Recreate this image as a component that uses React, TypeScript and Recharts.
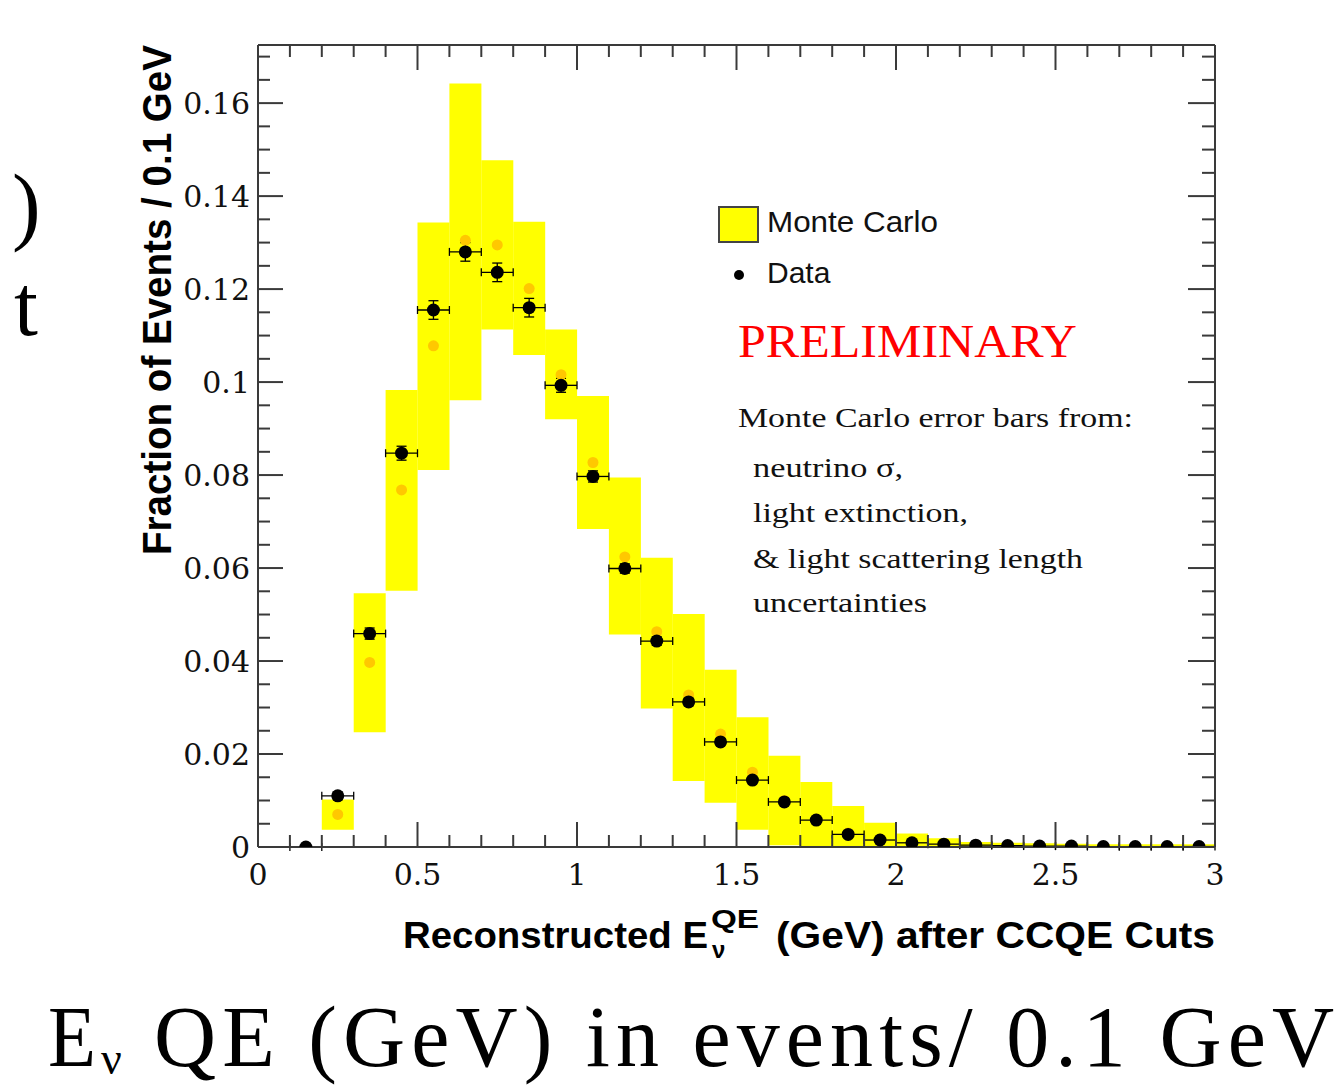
import React from "react";
import { ComposedChart, Bar, Scatter, XAxis, YAxis, ErrorBar } from "recharts";

// bin centres (GeV), bins are 0.1 GeV wide
const binCenters = [0.15, 0.25, 0.35, 0.45, 0.55, 0.65, 0.75, 0.85, 0.95, 1.05, 1.15, 1.25, 1.35, 1.45, 1.55, 1.65, 1.75, 1.85, 1.95, 2.05, 2.15, 2.25, 2.35, 2.45, 2.55, 2.65, 2.75, 2.85, 2.95];
const binHalfWidth = 0.05;

// black points (data)
const dataFraction = [0, 0.011, 0.0459, 0.0847, 0.1155, 0.128, 0.1236, 0.116, 0.0993, 0.0797, 0.0599, 0.0443, 0.0312, 0.0226, 0.0144, 0.0097, 0.0058, 0.0027, 0.0015, 0.0009, 0.0006, 0.0004, 0.0003, 0.0002, 0.0002, 0.0001, 0.0001, 0.0001, 0.0001];
const dataError = [0, 0.0008, 0.0012, 0.0015, 0.002, 0.002, 0.002, 0.002, 0.0015, 0.0012, 0.001, 0.0009, 0.0008, 0.0007, 0.0006, 0.0005, 0.0004, 0.0003, 0.0002, 0.0002, 0.0001, 0.0001, 0.0001, 0.0001, 0.0001, 0.0001, 0.0001, 0.0001, 0.0001];

// Monte Carlo central value (orange) and error band (yellow)
const mcCentral = [0, 0.007, 0.0397, 0.0768, 0.1078, 0.1305, 0.1295, 0.1201, 0.1016, 0.0827, 0.0624, 0.0463, 0.0327, 0.0243, 0.0161, 0.01, 0.006, 0.003, 0.0017, 0.001, 0.0007, 0.0004, 0.0003, 0.0002, 0.0002, 0.0001, 0.0001, 0.0001, 0.0001];
const mcLow = [0, 0.0037, 0.0247, 0.0551, 0.0811, 0.0961, 0.1113, 0.1058, 0.092, 0.0684, 0.0457, 0.0298, 0.0142, 0.0095, 0.0037, 0.0004, 0, 0, 0, 0, 0, 0, 0, 0, 0, 0, 0, 0, 0];
const mcHigh = [0, 0.0102, 0.0546, 0.0983, 0.1343, 0.1642, 0.1477, 0.1345, 0.1113, 0.097, 0.0795, 0.0622, 0.0501, 0.0381, 0.0279, 0.0196, 0.014, 0.0088, 0.0052, 0.0029, 0.0019, 0.0011, 0.0009, 0.0008, 0.0007, 0.0006, 0.0006, 0.0006, 0.0006];

const xMajorTicks = [0, 0.5, 1, 1.5, 2, 2.5, 3];
const xTickLabels = ["0", "0.5", "1", "1.5", "2", "2.5", "3"];
const yMajorTicks = [0, 0.02, 0.04, 0.06, 0.08, 0.1, 0.12, 0.14, 0.16];
const yTickLabels = ["0", "0.02", "0.04", "0.06", "0.08", "0.1", "0.12", "0.14", "0.16"];

const xMinorTicks = Array.from({ length: 31 }, (_, i) => i / 10);
const yMinorTicks = Array.from({ length: 35 }, (_, i) => i * 0.005);

const rows = binCenters.map((x, i) => ({
  x,
  frac: dataFraction[i],
  fracErr: dataError[i],
  xErr: binHalfWidth,
  mc: mcCentral[i],
  mcRange: [mcLow[i], mcHigh[i]],
}));

const axisColor = "#3a3a3a";
const tickFont = "'DejaVu Serif', serif";
const major = (list: number[], v: number) => list.findIndex((m) => Math.abs(m - v) < 1e-9);

const BottomTick = ({ x, y, payload }: any) => {
  const k = major(xMajorTicks, payload.value);
  return (
    <g>
      <line x1={x} x2={x} y1={y} y2={y - (k >= 0 ? 25 : 12)} stroke={axisColor} strokeWidth={2} />
      {k >= 0 && (
        <text x={x} y={y + 38} textAnchor="middle" fontFamily={tickFont} fontSize={30} fill="#111">
          {xTickLabels[k]}
        </text>
      )}
    </g>
  );
};

const TopTick = ({ x, y, payload }: any) => {
  const k = major(xMajorTicks, payload.value);
  return <line x1={x} x2={x} y1={y} y2={y + (k >= 0 ? 25 : 12)} stroke={axisColor} strokeWidth={2} />;
};

const LeftTick = ({ x, y, payload }: any) => {
  const k = major(yMajorTicks, payload.value);
  return (
    <g>
      <line x1={x} x2={x + (k >= 0 ? 25 : 12)} y1={y} y2={y} stroke={axisColor} strokeWidth={2} />
      {k >= 0 && (
        <text x={x - 8} y={y + 11} textAnchor="end" fontFamily={tickFont} fontSize={30} fill="#111">
          {yTickLabels[k]}
        </text>
      )}
    </g>
  );
};

const RightTick = ({ x, y, payload }: any) => {
  const k = major(yMajorTicks, payload.value);
  return <line x1={x} x2={x - (k >= 0 ? 27 : 13)} y1={y} y2={y} stroke={axisColor} strokeWidth={2} />;
};

const dot = (color: string, r: number) => (p: any) => <circle cx={p.cx} cy={p.cy} r={r} fill={color} />;

const serif = "'Liberation Serif', 'Times New Roman', serif";
const sans = "'Liberation Sans', Arial, sans-serif";

const Overlay = () => (
  <svg width={1344} height={1089} style={{ position: "absolute", left: 0, top: 0, pointerEvents: "none" }}>
    {/* cut-off slide text on the left */}
    <text x={12} y={234} fontFamily={serif} fontSize={86} fill="#000">)</text>
    <text x={14} y={335} fontFamily={serif} fontSize={86} fill="#000">t</text>

    {/* y title */}
    <text
      transform="translate(171 300) rotate(-90)"
      textAnchor="middle"
      fontFamily={sans}
      fontWeight="bold"
      fontSize={40}
      textLength={510}
      lengthAdjust="spacingAndGlyphs"
      fill="#000"
    >
      Fraction of Events / 0.1 GeV
    </text>

    {/* x title */}
    <text x={403} y={948} fontFamily={sans} fontWeight="bold" fontSize={37} textLength={305} lengthAdjust="spacingAndGlyphs" fill="#000">
      Reconstructed E
    </text>
    <text x={711} y={928} fontFamily={sans} fontWeight="bold" fontSize={25} textLength={48} lengthAdjust="spacingAndGlyphs" fill="#000">QE</text>
    <text x={712} y={958} fontFamily={sans} fontWeight="bold" fontSize={24} fill="#000">ν</text>
    <text x={776} y={948} fontFamily={sans} fontWeight="bold" fontSize={37} textLength={439} lengthAdjust="spacingAndGlyphs" fill="#000">
      (GeV) after CCQE Cuts
    </text>

    {/* legend */}
    <rect x={719} y={207} width={39} height={35} fill="#ffff00" stroke="#444" strokeWidth={2} />
    <text x={767} y={232} fontFamily={sans} fontSize={30} textLength={171} lengthAdjust="spacingAndGlyphs" fill="#111">Monte Carlo</text>
    <circle cx={739} cy={275} r={5} fill="#000" />
    <text x={767} y={283} fontFamily={sans} fontSize={30} fill="#111">Data</text>

    <text x={738} y={357} fontFamily={serif} fontSize={46} textLength={339} lengthAdjust="spacingAndGlyphs" fill="#ff0000">PRELIMINARY</text>

    <g fontFamily={serif} fontSize={28} fill="#111">
      <text x={738} y={427} textLength={395} lengthAdjust="spacingAndGlyphs">Monte Carlo error bars from:</text>
      <text x={753} y={477} textLength={150} lengthAdjust="spacingAndGlyphs">neutrino σ,</text>
      <text x={753} y={522} textLength={215} lengthAdjust="spacingAndGlyphs">light extinction,</text>
      <text x={753} y={568} textLength={330} lengthAdjust="spacingAndGlyphs">&amp; light scattering length</text>
      <text x={753} y={612} textLength={174} lengthAdjust="spacingAndGlyphs">uncertainties</text>
    </g>

    {/* caption below the figure */}
    <text x={48} y={1066} fontFamily={serif} fontSize={86} textLength={48} lengthAdjust="spacingAndGlyphs" fill="#000">E</text>
    <text x={101} y={1074} fontFamily={serif} fontSize={46} fill="#000">ν</text>
    <text x={154} y={1066} fontFamily={serif} fontSize={86} textLength={1180} lengthAdjust="spacing" fill="#000">
      QE (GeV) in events/ 0.1 GeV
    </text>
  </svg>
);

export default function App() {
  return (
    <div style={{ position: "absolute", left: 0, top: 0, width: 1344, height: 1089, background: "#fff" }}>
      <ComposedChart
        width={1344}
        height={1089}
        data={rows}
        margin={{ top: 44, right: 128, bottom: 241, left: 257 }}
        barCategoryGap={0}
        barGap={0}
      >
        <XAxis
          xAxisId="x"
          dataKey="x"
          type="number"
          domain={[0, 3]}
          ticks={xMinorTicks}
          interval={0}
          height={1}
          tickSize={0}
          tickMargin={0}
          tickLine={false}
          tick={(p: any) => <BottomTick {...p} />}
          axisLine={{ stroke: axisColor, strokeWidth: 2 }}
          allowDataOverflow
        />
        <XAxis
          xAxisId="top"
          dataKey="x"
          orientation="top"
          type="number"
          domain={[0, 3]}
          ticks={xMinorTicks}
          interval={0}
          height={1}
          tickSize={0}
          tickMargin={0}
          tickLine={false}
          tick={(p: any) => <TopTick {...p} />}
          axisLine={{ stroke: axisColor, strokeWidth: 2 }}
          allowDataOverflow
        />
        <YAxis
          yAxisId="y"
          type="number"
          domain={[0, 0.1725]}
          ticks={yMinorTicks}
          interval={0}
          width={1}
          tickSize={0}
          tickMargin={0}
          tickLine={false}
          tick={(p: any) => <LeftTick {...p} />}
          axisLine={{ stroke: axisColor, strokeWidth: 2 }}
          allowDataOverflow
        />
        <YAxis
          yAxisId="right"
          orientation="right"
          type="number"
          domain={[0, 0.1725]}
          ticks={yMinorTicks}
          interval={0}
          width={1}
          tickSize={0}
          tickMargin={0}
          tickLine={false}
          tick={(p: any) => <RightTick {...p} />}
          axisLine={{ stroke: axisColor, strokeWidth: 2 }}
          allowDataOverflow
        />
        <Bar xAxisId="x" yAxisId="y" dataKey="mcRange" fill="#ffff00" isAnimationActive={false} />
        <Scatter xAxisId="x" yAxisId="y" dataKey="mc" shape={dot("#ffc800", 5.5)} isAnimationActive={false} />
        <Scatter xAxisId="x" yAxisId="y" dataKey="frac" shape={dot("#000", 6.5)} isAnimationActive={false}>
          <ErrorBar dataKey="xErr" direction="x" width={4} stroke="#000" strokeWidth={1.3} isAnimationActive={false} />
          <ErrorBar dataKey="fracErr" direction="y" width={5} stroke="#000" strokeWidth={1.3} isAnimationActive={false} />
        </Scatter>
      </ComposedChart>
      <Overlay />
    </div>
  );
}
